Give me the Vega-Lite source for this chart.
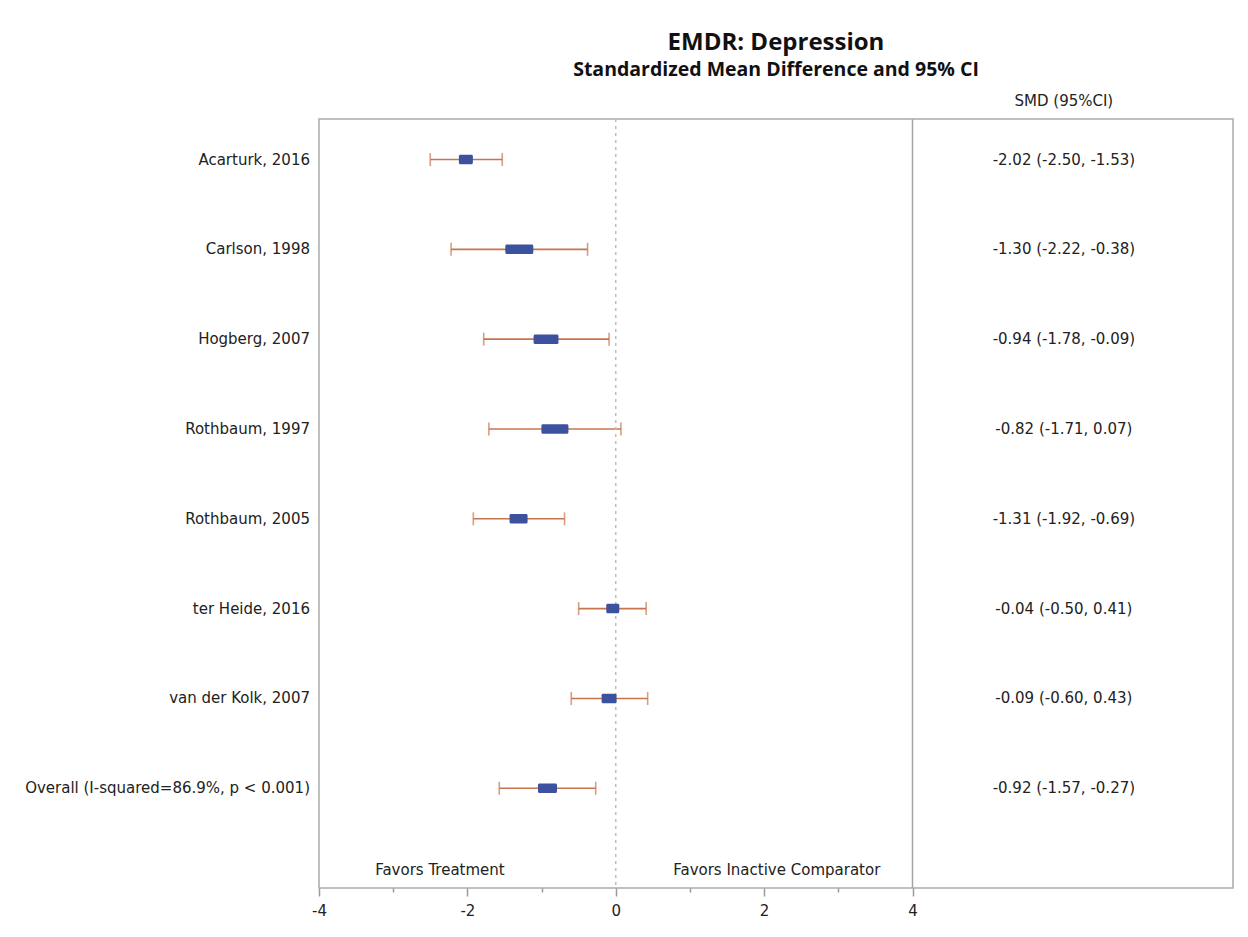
{
  "$schema": "https://vega.github.io/schema/vega-lite/v6.json",
  "width": 914,
  "height": 769,
  "autosize": {"type": "none"},
  "padding": {"left": 319, "top": 119, "right": 15, "bottom": 49},
  "background": "white",
  "title": {
    "text": "EMDR: Depression",
    "subtitle": "Standardized Mean Difference and 95% CI",
    "anchor": "middle",
    "frame": "group",
    "font": "Open Sans",
    "fontSize": 24,
    "fontWeight": "bold",
    "color": "#111111",
    "subtitleFont": "Open Sans",
    "subtitleFontSize": 19.5,
    "subtitleFontWeight": "bold",
    "subtitleColor": "#111111",
    "subtitlePadding": 6,
    "offset": 15
  },
  "config": {
    "view": {"stroke": "#ABABAB", "strokeWidth": 1.5},
    "font": "DejaVu Sans",
    "axisX": {
      "title": null,
      "domain": false,
      "grid": false,
      "tickColor": "#9A9A9A",
      "tickWidth": 1.5,
      "labelFont": "DejaVu Sans",
      "labelFontSize": 15,
      "labelColor": "#222222",
      "labelPadding": 7,
      "labelFlush": false
    }
  },
  "datasets": {
    "studies": [
      {"study": "Acarturk, 2016", "row": 1, "smd": -2.02, "lo": -2.50, "hi": -1.53, "weight": 10.0, "ci_text": "-2.02 (-2.50, -1.53)"},
      {"study": "Carlson, 1998", "row": 2, "smd": -1.30, "lo": -2.22, "hi": -0.38, "weight": 20.0, "ci_text": "-1.30 (-2.22, -0.38)"},
      {"study": "Hogberg, 2007", "row": 3, "smd": -0.94, "lo": -1.78, "hi": -0.09, "weight": 17.8, "ci_text": "-0.94 (-1.78, -0.09)"},
      {"study": "Rothbaum, 1997", "row": 4, "smd": -0.82, "lo": -1.71, "hi": 0.07, "weight": 19.3, "ci_text": "-0.82 (-1.71, 0.07)"},
      {"study": "Rothbaum, 2005", "row": 5, "smd": -1.31, "lo": -1.92, "hi": -0.69, "weight": 12.9, "ci_text": "-1.31 (-1.92, -0.69)"},
      {"study": "ter Heide, 2016", "row": 6, "smd": -0.04, "lo": -0.50, "hi": 0.41, "weight": 9.3, "ci_text": "-0.04 (-0.50, 0.41)"},
      {"study": "van der Kolk, 2007", "row": 7, "smd": -0.09, "lo": -0.60, "hi": 0.43, "weight": 10.7, "ci_text": "-0.09 (-0.60, 0.43)"},
      {"study": "Overall (I-squared=86.9%, p < 0.001)", "row": 8, "smd": -0.92, "lo": -1.57, "hi": -0.27, "weight": 13.6, "ci_text": "-0.92 (-1.57, -0.27)"}
    ],
    "favors": [
      {"side": "Favors Treatment", "x": -2.37, "row": 8.91},
      {"side": "Favors Inactive Comparator", "x": 2.17, "row": 8.91}
    ],
    "refs": [
      {"name": "no effect", "x": 0},
      {"name": "divider", "x": 4}
    ]
  },
  "layer": [
    {
      "data": {"name": "studies"},
      "mark": {"type": "rule", "color": "#C8754F", "strokeWidth": 1.6},
      "encoding": {
        "x": {
          "field": "lo",
          "type": "quantitative",
          "scale": {"domain": [-4, 8.32], "nice": false, "zero": false},
          "axis": {
            "values": [-4, -3, -2, -1, 0, 1, 2, 3, 4],
            "labelExpr": "datum.value % 2 === 0 ? '' + datum.value : ''",
            "tickSize": {"condition": {"test": "datum.value % 2 !== 0", "value": 4}, "value": 8},
            "title": null
          }
        },
        "x2": {"field": "hi"},
        "y": {"field": "row", "type": "quantitative", "scale": {"domain": [0.6044, 9.0549], "reverse": true, "nice": false, "zero": false}, "axis": null}
      }
    },
    {
      "data": {"name": "refs"},
      "transform": [{"filter": "datum.name === 'no effect'"}],
      "mark": {"type": "rule", "color": "#BDBDBD", "strokeWidth": 1.5, "strokeDash": [3, 4]},
      "encoding": {"x": {"field": "x", "type": "quantitative"}}
    },
    {
      "data": {"name": "refs"},
      "transform": [{"filter": "datum.name === 'divider'"}],
      "mark": {"type": "rule", "color": "#A6A6A6", "strokeWidth": 1.5},
      "encoding": {"x": {"field": "x", "type": "quantitative"}}
    },
    {
      "data": {"name": "studies"},
      "mark": {"type": "tick", "orient": "vertical", "size": 13, "thickness": 1.6, "color": "#C8754F"},
      "encoding": {
        "x": {"field": "lo", "type": "quantitative"},
        "y": {"field": "row", "type": "quantitative", "axis": null}
      }
    },
    {
      "data": {"name": "studies"},
      "mark": {"type": "tick", "orient": "vertical", "size": 13, "thickness": 1.6, "color": "#C8754F"},
      "encoding": {
        "x": {"field": "hi", "type": "quantitative"},
        "y": {"field": "row", "type": "quantitative", "axis": null}
      }
    },
    {
      "data": {"name": "studies"},
      "transform": [
        {"calculate": "datum.smd - datum.weight * 0.00944", "as": "box_lo"},
        {"calculate": "datum.smd + datum.weight * 0.00944", "as": "box_hi"}
      ],
      "mark": {"type": "bar", "size": 9.5, "color": "#3D529E", "cornerRadius": 1.5},
      "encoding": {
        "x": {"field": "box_lo", "type": "quantitative"},
        "x2": {"field": "box_hi"},
        "y": {"field": "row", "type": "quantitative", "axis": null}
      }
    },
    {
      "data": {"name": "studies"},
      "mark": {"type": "text", "align": "right", "baseline": "middle", "dx": -9, "fontSize": 15, "color": "#222222"},
      "encoding": {
        "x": {"datum": -4, "type": "quantitative"},
        "y": {"field": "row", "type": "quantitative", "axis": null},
        "text": {"field": "study"}
      }
    },
    {
      "data": {"name": "studies"},
      "mark": {"type": "text", "align": "center", "baseline": "middle", "fontSize": 15, "color": "#222222"},
      "encoding": {
        "x": {"datum": 6.04, "type": "quantitative"},
        "y": {"field": "row", "type": "quantitative", "axis": null},
        "text": {"field": "ci_text"}
      }
    },
    {
      "data": {"name": "favors"},
      "mark": {"type": "text", "align": "center", "baseline": "middle", "fontSize": 15, "color": "#222222"},
      "encoding": {
        "x": {"field": "x", "type": "quantitative"},
        "y": {"field": "row", "type": "quantitative", "axis": null},
        "text": {"field": "side"}
      }
    },
    {
      "data": {"values": [{"head": "SMD (95%CI)", "x": 6.04, "row": 0.35}]},
      "mark": {"type": "text", "align": "center", "baseline": "middle", "fontSize": 15, "color": "#222222"},
      "encoding": {
        "x": {"field": "x", "type": "quantitative"},
        "y": {"field": "row", "type": "quantitative", "axis": null},
        "text": {"field": "head"}
      }
    }
  ]
}
